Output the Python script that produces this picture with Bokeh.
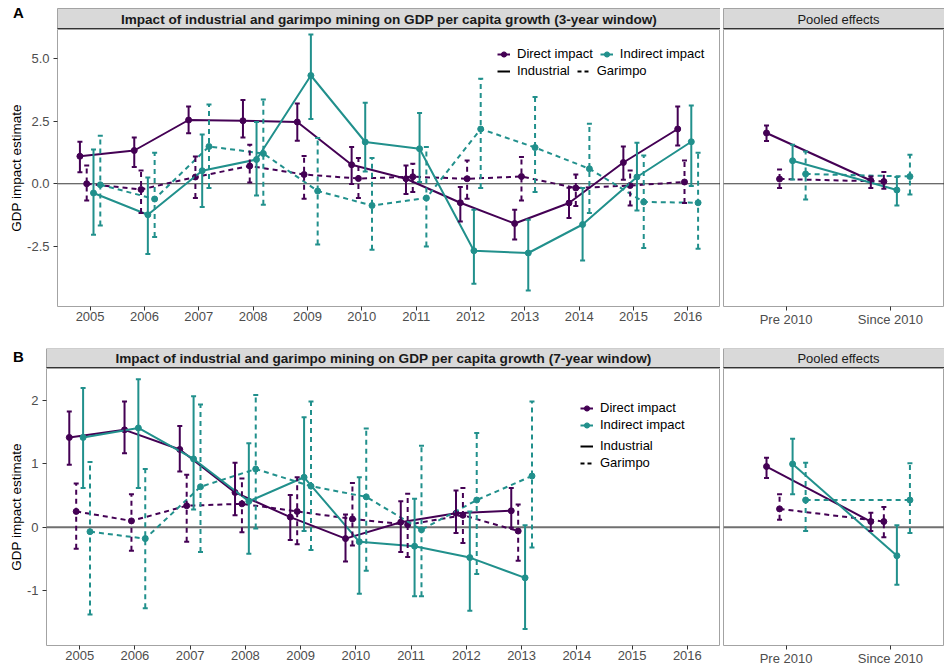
from bokeh.plotting import figure
from bokeh.models import (ColumnDataSource, Whisker, TeeHead, Span, Label, Legend,
                          LegendItem, FixedTicker, Range1d, BoxAnnotation)
from bokeh.layouts import column, row
from bokeh.embed import file_html
from bokeh.resources import INLINE

# ------------------------------------------------------------------ data
year_ticks = [2005, 2006, 2007, 2008, 2009, 2010, 2011, 2012, 2013, 2014, 2015, 2016]
years_3yr = [2005, 2006, 2007, 2008, 2009, 2010, 2011, 2012, 2013, 2014, 2015, 2016]
years_7yr = [2005, 2006, 2007, 2008, 2009, 2010, 2011, 2012, 2013]
periods = ["Pre 2010", "Since 2010"]

ytick_a = [-2.5, 0.0, 2.5, 5.0]
ytick_a_labels = ["-2.5", "0.0", "2.5", "5.0"]
ytick_b = [-1, 0, 1, 2]
ytick_b_labels = ["-1", "0", "1", "2"]

title_a = "Impact of industrial and garimpo mining on GDP per capita growth (3-year window)"
title_b = "Impact of industrial and garimpo mining on GDP per capita growth (7-year window)"
title_pool = "Pooled effects"
impact_labels = ["Direct impact", "Indirect impact"]
type_labels = ["Industrial", "Garimpo"]

# 3-year window, yearly estimates
a_dir_ind = [1.10, 1.33, 2.55, 2.52, 2.47, 0.76, 0.20, -0.76, -1.59, -0.77, 0.85, 2.19]
a_dir_ind_lo = [0.46, 0.67, 2.02, 1.85, 1.72, -0.01, -0.41, -1.51, -2.23, -1.37, 0.16, 1.53]
a_dir_ind_hi = [1.68, 1.85, 3.09, 3.35, 3.21, 1.47, 0.73, -0.13, -1.04, -0.16, 1.49, 3.09]

a_dir_gar = [0.00, -0.23, 0.27, 0.71, 0.37, 0.21, 0.28, 0.20, 0.29, -0.17, -0.07, 0.07]
a_dir_gar_lo = [-0.67, -1.17, -0.57, 0.05, -0.60, -0.57, -0.33, -0.60, -0.67, -0.89, -0.87, -0.77]
a_dir_gar_hi = [0.73, 0.53, 1.09, 1.56, 1.11, 1.03, 0.80, 0.93, 1.07, 0.37, 0.53, 0.93]

a_ind_ind = [-0.37, -1.24, 0.52, 0.97, 4.33, 1.67, 1.40, -2.68, -2.77, -1.63, 0.27, 1.68]
a_ind_ind_lo = [-2.04, -2.81, -0.93, -0.47, 2.59, 0.49, 0.07, -4.00, -4.27, -3.07, -1.07, -0.09]
a_ind_ind_hi = [1.37, 0.25, 1.97, 2.47, 5.97, 3.24, 2.83, -1.04, -1.44, -0.17, 1.64, 3.13]

a_ind_gar = [-0.04, -0.61, 1.49, 1.21, -0.29, -0.87, -0.57, 2.19, 1.45, 0.60, -0.73, -0.76]
a_ind_gar_lo = [-1.67, -2.13, -0.17, -0.84, -2.43, -2.64, -2.51, -0.17, -0.33, -1.17, -2.57, -2.60]
a_ind_gar_hi = [1.92, 1.24, 3.17, 3.37, 1.83, 1.03, 1.47, 4.20, 3.47, 2.40, 1.13, 1.24]

# 3-year window, pooled
pa_dir_ind = [2.03, 0.13]
pa_dir_ind_lo = [1.71, -0.17]
pa_dir_ind_hi = [2.33, 0.29]
pa_dir_gar = [0.19, 0.09]
pa_dir_gar_lo = [-0.17, -0.20]
pa_dir_gar_hi = [0.57, 0.47]
pa_ind_ind = [0.92, -0.25]
pa_ind_ind_lo = [0.17, -0.87]
pa_ind_ind_hi = [1.56, 0.27]
pa_ind_gar = [0.39, 0.29]
pa_ind_gar_lo = [-0.63, -0.43]
pa_ind_gar_hi = [1.29, 1.16]

# 7-year window, yearly estimates
b_dir_ind = [1.42, 1.54, 1.23, 0.55, 0.16, -0.18, 0.08, 0.22, 0.26]
b_dir_ind_lo = [0.99, 1.17, 0.88, 0.19, -0.20, -0.54, -0.39, -0.09, -0.01]
b_dir_ind_hi = [1.83, 1.99, 1.60, 1.02, 0.51, 0.20, 0.41, 0.58, 0.62]

b_dir_gar = [0.25, 0.10, 0.34, 0.37, 0.25, 0.13, 0.04, 0.19, -0.06]
b_dir_gar_lo = [-0.34, -0.37, -0.23, -0.08, -0.27, -0.29, -0.47, -0.25, -0.53]
b_dir_gar_hi = [0.69, 0.52, 0.83, 0.77, 0.79, 0.70, 0.53, 0.62, 0.36]

b_ind_ind = [1.42, 1.57, 1.08, 0.41, 0.79, -0.23, -0.30, -0.48, -0.80]
b_ind_ind_lo = [0.62, 0.62, 0.28, -0.42, -0.06, -1.05, -1.09, -1.32, -1.61]
b_ind_ind_hi = [2.20, 2.34, 2.07, 1.33, 1.74, 0.79, 0.45, 0.25, 0.03]

b_ind_gar = [-0.07, -0.18, 0.64, 0.92, 0.65, 0.48, -0.04, 0.43, 0.81]
b_ind_gar_lo = [-1.38, -1.28, -0.39, -0.02, -0.36, -0.69, -1.09, -0.74, -0.32]
b_ind_gar_hi = [1.03, 0.92, 1.94, 2.09, 1.99, 1.56, 1.29, 1.49, 1.99]

# 7-year window, pooled
pb_dir_ind = [0.96, 0.09]
pb_dir_ind_lo = [0.78, -0.06]
pb_dir_ind_hi = [1.10, 0.23]
pb_dir_gar = [0.29, 0.09]
pb_dir_gar_lo = [0.12, -0.16]
pb_dir_gar_hi = [0.52, 0.32]
pb_ind_ind = [1.00, -0.45]
pb_ind_ind_lo = [0.52, -0.91]
pb_ind_ind_hi = [1.40, 0.03]
pb_ind_gar = [0.43, 0.43]
pb_ind_gar_lo = [-0.06, -0.09]
pb_ind_gar_hi = [1.02, 1.01]

# ------------------------------------------------------------------ style
FONT = "Liberation Sans"
PURPLE = "#440154"
TEAL = "#21908C"
COLORS = {"dir": PURPLE, "ind": TEAL}
DASHES = {"ind": "solid", "gar": "5 4"}
DODGE = {("dir", "ind"): -0.1875, ("dir", "gar"): -0.0625,
         ("ind", "ind"): 0.0625, ("ind", "gar"): 0.1875}
PANEL_BORDER = "#a3a3a3"
NAN = float("nan")


def draw_series(p, xs, impact, mtype, est, lo, hi):
    off = DODGE[(impact, mtype)]
    color = COLORS[impact]
    dash = DASHES[mtype]
    src = ColumnDataSource(data=dict(x=[v + off for v in xs], est=est, lo=lo, hi=hi))
    wk = Whisker(source=src, base="x", lower="lo", upper="hi",
                 line_color=color, line_width=2, line_dash=dash,
                 upper_head=TeeHead(size=5, line_color=color, line_width=2),
                 lower_head=TeeHead(size=5, line_color=color, line_width=2),
                 level="glyph")
    p.add_layout(wk)
    p.line("x", "est", source=src, line_color=color, line_width=2, line_dash=dash)
    p.scatter("x", "est", source=src, size=6, fill_color=color, line_color=color)


def style_axes(p):
    p.grid.visible = False
    p.outline_line_color = PANEL_BORDER
    p.outline_line_width = 1
    p.axis.axis_line_color = None
    p.axis.major_tick_line_color = "#333333"
    p.axis.major_tick_out = 4
    p.axis.major_tick_in = 0
    p.axis.minor_tick_line_color = None
    p.axis.major_label_text_font = FONT
    p.axis.major_label_text_font_size = "13px"
    p.axis.major_label_text_color = "#4d4d4d"
    p.xaxis.major_label_standoff = 1


def strip(width, height, box_left, box_height, text, bold, text_x, tag=None, tag_y=0):
    """Strip drawn in a pixel-like coordinate system covering the whole canvas."""
    s = figure(width=width, height=height, x_range=Range1d(0, width), y_range=Range1d(0, height),
               toolbar_location=None, output_backend="svg",
               x_axis_location=None, y_axis_location=None,
               min_border_left=0, min_border_right=0, min_border_top=0, min_border_bottom=0)
    s.grid.visible = False
    s.outline_line_color = None
    s.background_fill_color = "white"
    s.border_fill_color = "white"
    s.add_layout(BoxAnnotation(left=box_left, right=width, bottom=0, top=box_height,
                               fill_color="#d9d9d9", fill_alpha=1,
                               line_color="#a3a3a3", line_alpha=1, line_width=1))
    s.add_layout(BoxAnnotation(left=box_left, right=width, bottom=0, top=1.5,
                               fill_color="#333333", fill_alpha=1, line_alpha=0))
    s.add_layout(Label(x=text_x, y=box_height / 2.0, text=text, text_align="center",
                       text_baseline="middle", text_font=FONT,
                       text_font_size="13.6px" if bold else "13px",
                       text_font_style="bold" if bold else "normal", text_color="#1a1a1a"))
    if tag is not None:
        s.add_layout(Label(x=12.5, y=tag_y, text=tag, text_align="left", text_baseline="middle",
                           text_font=FONT, text_font_size="15px", text_font_style="bold",
                           text_color="black"))
    return s


def main_panel(width, height, left, bottom, xr, yr, yticks, ylabels, zero_color, zero_width):
    p = figure(width=width, height=height, x_range=Range1d(*xr), y_range=Range1d(*yr),
               toolbar_location=None, output_backend="svg",
               min_border_left=left, min_border_right=0, min_border_top=0, min_border_bottom=bottom)
    style_axes(p)
    p.xaxis.ticker = FixedTicker(ticks=year_ticks)
    p.yaxis.ticker = FixedTicker(ticks=yticks)
    p.yaxis.major_label_overrides = {t: l for t, l in zip(yticks, ylabels)}
    p.yaxis.major_label_standoff = 4
    p.yaxis.axis_label = "GDP impact estimate"
    p.yaxis.axis_label_text_font = FONT
    p.yaxis.axis_label_text_font_size = "13.5px"
    p.yaxis.axis_label_text_font_style = "normal"
    p.yaxis.axis_label_text_color = "black"
    p.yaxis.axis_label_standoff = 0
    p.add_layout(Span(location=0, dimension="width", line_color=zero_color,
                      line_width=zero_width, level="underlay"))
    return p


def pool_panel(width, height, bottom, xr, yr, zero_color, zero_width):
    p = figure(width=width, height=height, x_range=Range1d(*xr), y_range=Range1d(*yr),
               toolbar_location=None, output_backend="svg", y_axis_location=None,
               min_border_left=3, min_border_right=0, min_border_top=0, min_border_bottom=bottom)
    style_axes(p)
    pos = list(range(1, len(periods) + 1))
    p.xaxis.ticker = FixedTicker(ticks=pos)
    p.xaxis.major_label_overrides = {i: lab for i, lab in zip(pos, periods)}
    p.add_layout(Span(location=0, dimension="width", line_color=zero_color,
                      line_width=zero_width, level="underlay"))
    return p


def legend_style(leg, spacing):
    leg.border_line_color = None
    leg.background_fill_alpha = 0
    leg.padding = 0
    leg.margin = 0
    leg.spacing = spacing
    leg.glyph_width = 13
    leg.glyph_height = 14
    leg.label_height = 14
    leg.label_width = 10
    leg.label_standoff = 7
    leg.label_text_font = FONT
    leg.label_text_font_size = "13px"
    leg.label_text_color = "black"


def add_legends(p, horizontal, loc1, loc2, spacing1, spacing2):
    items1 = []
    for key, lab in zip(["dir", "ind"], impact_labels):
        l = p.line([NAN], [NAN], line_color=COLORS[key], line_width=2)
        s = p.scatter([NAN], [NAN], size=5, fill_color=COLORS[key], line_color=COLORS[key])
        items1.append(LegendItem(label=lab, renderers=[l, s]))
    items2 = []
    for key, lab in zip(["ind", "gar"], type_labels):
        l = p.line([NAN], [NAN], line_color="black", line_width=2,
                   line_dash="solid" if key == "ind" else "4 3")
        items2.append(LegendItem(label=lab, renderers=[l]))
    orient = "horizontal" if horizontal else "vertical"
    leg1 = Legend(items=items1, orientation=orient, location=loc1)
    leg2 = Legend(items=items2, orientation=orient, location=loc2)
    legend_style(leg1, spacing1)
    legend_style(leg2, spacing2)
    p.add_layout(leg1)
    p.add_layout(leg2)


def fill(p, xs, groups):
    for impact, mtype, est, lo, hi in groups:
        draw_series(p, xs, impact, mtype, est, lo, hi)


LEFT_W = 720
RIGHT_W = 224
XR_YEARS = (2004.4, 2016.6)
XR_POOL = (0.4, 2.519)
YR_A = (-4.91, 6.17)
YR_B = (-1.87, 2.51)
pos = list(range(1, len(periods) + 1))

# ---------------- row A
strip_a = strip(LEFT_W, 29, 57, 21, title_a, True, (57 + LEFT_W) / 2.0, tag="A", tag_y=17.5)
strip_ap = strip(RIGHT_W, 29, 3, 21, title_pool, False, 118)
pa = main_panel(LEFT_W, 319, 57, 42, XR_YEARS, YR_A, ytick_a, ytick_a_labels, "#3a3a3a", 1.2)
fill(pa, years_3yr, [
    ("dir", "ind", a_dir_ind, a_dir_ind_lo, a_dir_ind_hi),
    ("dir", "gar", a_dir_gar, a_dir_gar_lo, a_dir_gar_hi),
    ("ind", "ind", a_ind_ind, a_ind_ind_lo, a_ind_ind_hi),
    ("ind", "gar", a_ind_gar, a_ind_gar_lo, a_ind_gar_hi),
])
add_legends(pa, True, (440, 245), (440, 228), 7, 7)

ppa = pool_panel(RIGHT_W, 319, 42, XR_POOL, YR_A, "#3a3a3a", 1.2)
fill(ppa, pos, [
    ("dir", "ind", pa_dir_ind, pa_dir_ind_lo, pa_dir_ind_hi),
    ("dir", "gar", pa_dir_gar, pa_dir_gar_lo, pa_dir_gar_hi),
    ("ind", "ind", pa_ind_ind, pa_ind_ind_lo, pa_ind_ind_hi),
    ("ind", "gar", pa_ind_gar, pa_ind_gar_lo, pa_ind_gar_hi),
])

# ---------------- row B
strip_b = strip(LEFT_W, 20, 46, 20, title_b, True, (46 + LEFT_W) / 2.0, tag="B", tag_y=12.5)
strip_bp = strip(RIGHT_W, 20, 3, 20, title_pool, False, 118)
pb = main_panel(LEFT_W, 301, 46, 24, XR_YEARS, YR_B, ytick_b, ytick_b_labels, "#707070", 1.8)
fill(pb, years_7yr, [
    ("dir", "ind", b_dir_ind, b_dir_ind_lo, b_dir_ind_hi),
    ("dir", "gar", b_dir_gar, b_dir_gar_lo, b_dir_gar_hi),
    ("ind", "ind", b_ind_ind, b_ind_ind_lo, b_ind_ind_hi),
    ("ind", "gar", b_ind_gar, b_ind_gar_lo, b_ind_gar_hi),
])
add_legends(pb, False, (534, 213), (534, 175), 2, 2)

ppb = pool_panel(RIGHT_W, 301, 24, XR_POOL, YR_B, "#707070", 1.8)
fill(ppb, pos, [
    ("dir", "ind", pb_dir_ind, pb_dir_ind_lo, pb_dir_ind_hi),
    ("dir", "gar", pb_dir_gar, pb_dir_gar_lo, pb_dir_gar_hi),
    ("ind", "ind", pb_ind_ind, pb_ind_ind_lo, pb_ind_ind_hi),
    ("ind", "gar", pb_ind_gar, pb_ind_gar_lo, pb_ind_gar_hi),
])

layout = column(
    row(strip_a, strip_ap),
    row(pa, ppa),
    row(strip_b, strip_bp),
    row(pb, ppb),
)

open("out.html", "w").write(file_html(layout, INLINE))
